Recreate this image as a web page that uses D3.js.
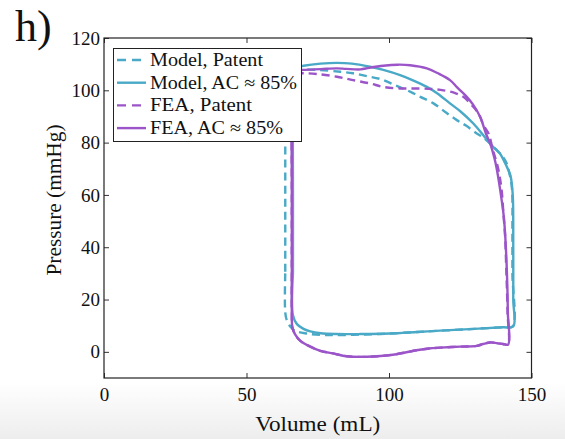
<!DOCTYPE html>
<html>
<head>
<meta charset="utf-8">
<script src="https://cdn.jsdelivr.net/npm/d3@7"></script>
<style>
  html, body { margin: 0; padding: 0; background: #fff; }
  svg { display: block; }
  text { font-family: "Liberation Serif", "Times New Roman", serif; fill: #111; }
</style>
</head>
<body>
<svg id="chart" width="565" height="439"></svg>
<script>
// ---------------- data ----------------
const panelLabel = "h)";
const xLabel = "Volume (mL)";
const yLabel = "Pressure (mmHg)";
const xTicks = [0, 50, 100, 150];
const yTicks = [0, 20, 40, 60, 80, 100, 120];
const xDomain = [0, 150];
const yDomain = [-10, 120];

const seriesNames = ["Model, Patent", "Model, AC \u2248 85%", "FEA, Patent", "FEA, AC \u2248 85%"];

// [volume mL, pressure mmHg]
const modelPatent = [
  [63.6, 30], [63.6, 15], [64.2, 11.9], [65.5, 9.5], [67.1, 8.0], [71.2, 7.0], [76, 6.5],
  [81, 6.4], [90, 6.6], [100, 7.0], [110, 7.6], [120, 8.2], [130, 8.8], [140, 9.4], [143.3, 9.7],
  [143.3, 30], [143.3, 50], [143.3, 59], [143, 64], [142.3, 68], [141.3, 72], [140, 74.5],
  [137.5, 77.5], [135.5, 79.6], [133, 82], [130.8, 83.5], [127, 86.5], [123.8, 88.6], [120, 91.5],
  [115.6, 95], [111, 97.5], [107.4, 99.5], [102, 102], [97, 104.3], [92.3, 105.4], [87.4, 106.5],
  [82.9, 107.1], [75, 107.8], [68, 108], [64.5, 107.5], [63.6, 104], [63.6, 80], [63.6, 50], [63.6, 30]
];
const modelAC = [
  [66.3, 30], [66.3, 14], [67.7, 10.6], [70, 8.8], [72.4, 7.8], [76, 7.1], [81.7, 6.8], [90, 6.8],
  [100, 7.0], [110, 7.6], [118, 8.1], [130, 8.8], [140, 9.4], [143.6, 9.7],
  [143.6, 20], [143.6, 40], [143.5, 58], [143.2, 63], [142.6, 67.5], [141, 71.5], [138.8, 76],
  [136.6, 78.3], [133.7, 82], [129.6, 87.3], [125, 92], [121.4, 95], [117, 98.8], [113.3, 101.3],
  [108, 104], [103.9, 105.8], [98, 107.8], [93.3, 109], [87, 110.2], [81.7, 110.5], [76, 110.2],
  [70, 109.4], [67.5, 108.8], [66.5, 107.5], [66.3, 100], [66.3, 60], [66.3, 30]
];
const feaPatent = [
  [65.9, 30], [65.9, 15], [66.1, 9.3], [67, 6.8], [68.9, 4.2], [72, 2.2], [75.9, 0.4], [80.4, -0.6],
  [85.2, -1.7], [92.2, -1.9], [97, -1.6], [102.6, -0.9], [109.6, 0.6], [114, 1.3], [118, 1.6],
  [125, 2.0], [130.8, 2.3], [133, 3.0], [135.5, 3.6], [138, 3.3], [140, 3.0], [141.7, 2.8],
  [141.6, 15], [141.2, 30], [140.7, 45], [140.2, 52], [139.5, 62], [138.2, 70.6], [136.5, 77],
  [134.9, 83.5], [133.2, 86.5], [132, 89.8], [130.6, 92.4], [128.5, 95], [126.1, 97.5], [123, 99],
  [119.1, 100], [115, 100.5], [109.8, 100.7], [103.9, 100.7], [98, 101.3], [93.4, 102.6],
  [87.4, 103.9], [81.7, 105.2], [75, 106.2], [70, 106.5], [67.5, 106.3], [66.1, 105], [65.9, 100],
  [65.9, 60], [65.9, 30]
];
const feaAC = [
  [65.9, 30], [65.9, 15], [66.1, 9.3], [67, 6.8], [68.9, 4.2], [72, 2.2], [75.9, 0.4], [80.4, -0.6],
  [85.2, -1.7], [92.2, -1.9], [97, -1.6], [102.6, -0.9], [109.6, 0.6], [114, 1.3], [118, 1.6],
  [125, 2.0], [130.8, 2.3], [133, 3.0], [135.5, 3.6], [138, 3.3], [140, 3.0], [141.8, 2.8],
  [141.7, 15], [141.5, 26], [141, 40], [140.3, 51.5], [139, 62], [137.8, 70], [137, 74],
  [135.5, 79.6], [134, 83.5], [132, 89.8], [129.5, 94.5], [127.3, 97.5], [124, 101], [121.4, 103.9],
  [117, 106.6], [113.3, 108.4], [107.4, 109.6], [103, 109.8], [98, 109.4], [93, 108.6], [90, 108],
  [85, 108.2], [81.7, 108.4], [76, 108.1], [70, 107.8], [67.5, 107.4], [66.2, 106], [65.9, 100],
  [65.9, 60], [65.9, 30]
];

const seriesData = [modelPatent, modelAC, feaPatent, feaAC];
const seriesColor = ["#4aa9c6", "#4aa9c6", "#9b55c8", "#9b55c8"];
const seriesDash = ["8,5", null, "8,5", null];

// ---------------- layout ----------------
const svg = d3.select("#chart");
const m = { left: 104, right: 531.5, top: 38, bottom: 378 };

const defs = svg.append("defs");
const grad = defs.append("linearGradient").attr("id", "bg").attr("x1", 0).attr("x2", 0).attr("y1", 0).attr("y2", 1);
grad.append("stop").attr("offset", "0%").attr("stop-color", "#ffffff");
grad.append("stop").attr("offset", "100%").attr("stop-color", "#ededed");
svg.append("rect").attr("width", 565).attr("height", 439).attr("fill", "#fff");
svg.append("rect").attr("x", 0).attr("y", 382).attr("width", 565).attr("height", 57).attr("fill", "url(#bg)");

defs.append("clipPath").attr("id", "clip").append("rect")
  .attr("x", m.left).attr("y", m.top).attr("width", m.right - m.left).attr("height", m.bottom - m.top);

const x = d3.scaleLinear().domain(xDomain).range([m.left, m.right]);
const y = d3.scaleLinear().domain(yDomain).range([m.bottom, m.top]);

// axes
const tickFont = 19;
const gx = svg.append("g").attr("transform", `translate(0,${m.bottom})`)
  .call(d3.axisBottom(x).tickValues(xTicks).tickSize(-5).tickPadding(10));
const gxt = svg.append("g").attr("transform", `translate(0,${m.top})`)
  .call(d3.axisTop(x).tickValues(xTicks).tickSize(-5).tickFormat(""));
const gy = svg.append("g").attr("transform", `translate(${m.left},0)`)
  .call(d3.axisLeft(y).tickValues(yTicks).tickSize(-5).tickPadding(4));
const gyr = svg.append("g").attr("transform", `translate(${m.right},0)`)
  .call(d3.axisRight(y).tickValues(yTicks).tickSize(-5).tickFormat(""));
[gx, gxt, gy, gyr].forEach(g => {
  g.select(".domain").remove();
  g.selectAll(".tick line").attr("stroke", "#333").attr("stroke-width", 1);
  g.selectAll(".tick text").attr("font-family", "Liberation Serif, serif").attr("font-size", tickFont).attr("fill", "#222");
});

// curves
const line = d3.line().x(d => x(d[0])).y(d => y(d[1])).curve(d3.curveCatmullRom.alpha(0.5));
const gc = svg.append("g").attr("clip-path", "url(#clip)");
seriesData.forEach((d, i) => {
  gc.append("path").attr("d", line(d)).attr("fill", "none")
    .attr("stroke", seriesColor[i]).attr("stroke-width", 2.4)
    .attr("stroke-dasharray", seriesDash[i]).attr("stroke-linejoin", "round");
});

// frame
svg.append("rect").attr("x", m.left).attr("y", m.top).attr("width", m.right - m.left).attr("height", m.bottom - m.top)
  .attr("fill", "none").attr("stroke", "#222").attr("stroke-width", 1.2);

// legend
const lg = svg.append("g");
lg.append("rect").attr("x", 113.5).attr("y", 48.5).attr("width", 188).attr("height", 93)
  .attr("fill", "#fff").attr("stroke", "#222").attr("stroke-width", 1);
const legW = [113, 147, 102, 133];
seriesNames.forEach((name, i) => {
  const cy = 60 + i * 22.7;
  lg.append("line").attr("x1", 117).attr("x2", 146).attr("y1", cy).attr("y2", cy)
    .attr("stroke", seriesColor[i]).attr("stroke-width", 2.4).attr("stroke-dasharray", seriesDash[i] ? "9,6" : null);
  lg.append("text").attr("x", 150).attr("y", cy + 6).attr("font-size", 18)
    .attr("textLength", legW[i]).attr("lengthAdjust", "spacingAndGlyphs").text(name);
});

// axis titles
svg.append("text").attr("x", (m.left + m.right) / 2).attr("y", 431).attr("text-anchor", "middle")
  .attr("font-size", 21).attr("textLength", 125).attr("lengthAdjust", "spacingAndGlyphs").text(xLabel);
svg.append("text").attr("transform", "translate(61,200) rotate(-90)").attr("text-anchor", "middle")
  .attr("font-size", 21).attr("textLength", 151).attr("lengthAdjust", "spacingAndGlyphs").text(yLabel);

// panel label
svg.append("text").attr("x", 15).attr("y", 41).attr("font-size", 44).attr("fill", "#000").text(panelLabel);
</script>
</body>
</html>
